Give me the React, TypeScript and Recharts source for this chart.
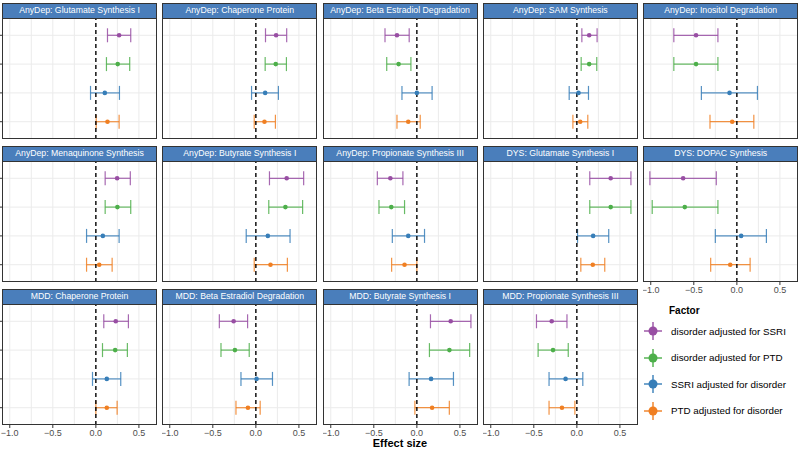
import React from 'react';
import { ScatterChart, Scatter, XAxis, YAxis, ErrorBar, ReferenceLine } from 'recharts';

const PANELS = [
  'AnyDep: Glutamate Synthesis I',
  'AnyDep: Chaperone Protein',
  'AnyDep: Beta Estradiol Degradation',
  'AnyDep: SAM Synthesis',
  'AnyDep: Inositol Degradation',
  'AnyDep: Menaquinone Synthesis',
  'AnyDep: Butyrate Synthesis I',
  'AnyDep: Propionate Synthesis III',
  'DYS: Glutamate Synthesis I',
  'DYS: DOPAC Synthesis',
  'MDD: Chaperone Protein',
  'MDD: Beta Estradiol Degradation',
  'MDD: Butyrate Synthesis I',
  'MDD: Propionate Synthesis III',
];

const FACTORS = [
  'disorder adjusted for SSRI',
  'disorder adjusted for PTD',
  'SSRI adjusted for disorder',
  'PTD adjusted for disorder',
];
const COLORS = ['#984ea3', '#4daf4a', '#377eb8', '#f07f22'];

// estimates and 95% intervals, one value per panel
const disSsriEst = [0.27, 0.235, -0.231, 0.143, -0.474, 0.247, 0.358, -0.308, 0.393, -0.624, 0.231, -0.258, 0.393, -0.292];
const disSsriLo = [0.135, 0.112, -0.37, 0.058, -0.732, 0.108, 0.158, -0.459, 0.15, -1.01, 0.092, -0.424, 0.158, -0.469];
const disSsriHi = [0.405, 0.358, -0.089, 0.235, -0.22, 0.4, 0.555, -0.162, 0.628, -0.239, 0.378, -0.096, 0.628, -0.115];

const disPtdEst = [0.254, 0.231, -0.212, 0.143, -0.474, 0.25, 0.343, -0.297, 0.393, -0.605, 0.224, -0.243, 0.378, -0.277];
const disPtdLo = [0.123, 0.108, -0.35, 0.05, -0.732, 0.108, 0.15, -0.44, 0.15, -0.983, 0.077, -0.405, 0.146, -0.45];
const disPtdHi = [0.393, 0.355, -0.069, 0.231, -0.22, 0.405, 0.543, -0.143, 0.628, -0.22, 0.366, -0.077, 0.613, -0.1];

const ssriEst = [0.104, 0.108, 0.0, 0.019, -0.085, 0.081, 0.139, -0.1, 0.189, 0.05, 0.127, 0.008, 0.165, -0.131];
const ssriLo = [-0.062, -0.05, -0.173, -0.089, -0.412, -0.108, -0.112, -0.285, 0.008, -0.25, -0.039, -0.173, -0.09, -0.323];
const ssriHi = [0.274, 0.262, 0.177, 0.135, 0.239, 0.27, 0.397, 0.089, 0.37, 0.343, 0.289, 0.193, 0.425, 0.069];

const ptdEst = [0.135, 0.1, -0.1, 0.039, -0.054, 0.039, 0.17, -0.143, 0.185, -0.077, 0.127, -0.092, 0.177, -0.173];
const ptdLo = [0.004, -0.019, -0.231, -0.046, -0.312, -0.108, -0.019, -0.293, 0.046, -0.304, 0.0, -0.231, -0.023, -0.323];
const ptdHi = [0.27, 0.227, 0.039, 0.127, 0.197, 0.189, 0.366, 0.0, 0.324, 0.154, 0.247, 0.05, 0.377, -0.023];

const SERIES = [
  { est: disSsriEst, lo: disSsriLo, hi: disSsriHi, level: 4 },
  { est: disPtdEst, lo: disPtdLo, hi: disPtdHi, level: 3 },
  { est: ssriEst, lo: ssriLo, hi: ssriHi, level: 2 },
  { est: ptdEst, lo: ptdLo, hi: ptdHi, level: 1 },
];

const X_TICKS = [-1, -0.5, 0, 0.5];
const X_GRID = [-1, -0.75, -0.5, -0.25, 0.25, 0.5];
const Y_LEVELS = [1, 2, 3, 4];

const FONT = '"Liberation Sans", Arial, sans-serif';
const PW = 155;
const HEADER_H = 15;
const BODY_H = 121;
const AXIS_H = 14;
const ROW_TOPS = [3, 146, 289];
const COL_STEP = 160.3;

const fmt = (v: number) => (v < 0 ? '\u2212' + Math.abs(v).toFixed(1) : v.toFixed(1));

const Panel = ({ idx }: { idx: number }) => {
  const row = Math.floor(idx / 5);
  const col = idx % 5;
  const left = 2 + col * COL_STEP;
  const top = ROW_TOPS[row];
  const bottom = idx >= 9;
  const firstCol = col === 0;
  const yW = firstCol ? 3 : 0;

  return (
    <>
      <div
        style={{
          position: 'absolute', left, top, width: PW, height: HEADER_H + 1, boxSizing: 'border-box',
          background: '#4a7ebb', border: '1px solid #333', color: '#fff', fontSize: 8.7,
          textAlign: 'center', lineHeight: '13px', whiteSpace: 'nowrap', overflow: 'hidden',
        }}
      >
        {PANELS[idx]}
      </div>
      <div style={{ position: 'absolute', left: left - yW, top: top + HEADER_H }}>
        <ScatterChart
          width={PW + yW}
          height={BODY_H + (bottom ? AXIS_H : 0)}
          margin={{ top: 0, right: 0, bottom: 0, left: 0 }}
        >
          <XAxis
            type="number"
            dataKey="x"
            domain={[-1.09, 0.71]}
            ticks={X_TICKS}
            allowDataOverflow
            hide={!bottom}
            height={bottom ? AXIS_H : 0}
            axisLine={false}
            tickSize={3}
            tickLine={{ stroke: '#333' }}
            tickFormatter={fmt}
            tick={{ fontSize: 9, fill: '#4d4d4d', fontFamily: FONT }}
            interval={0}
          />
          <YAxis
            type="number"
            dataKey="y"
            domain={[0.4, 4.6]}
            ticks={Y_LEVELS}
            hide={!firstCol}
            width={yW}
            axisLine={false}
            tickSize={2}
            tickLine={{ stroke: '#333' }}
            tickFormatter={() => ''}
          />
          {X_GRID.map((v) => (
            <ReferenceLine key={'gx' + v} x={v} stroke="#ebebeb" strokeWidth={1} />
          ))}
          {Y_LEVELS.map((v) => (
            <ReferenceLine key={'gy' + v} y={v} stroke="#ebebeb" strokeWidth={1} />
          ))}
          {SERIES.map((s, k) => (
            <Scatter
              key={k}
              isAnimationActive={false}
              data={[{ x: s.est[idx], y: s.level, err: [s.est[idx] - s.lo[idx], s.hi[idx] - s.est[idx]] }]}
              fill={COLORS[k]}
              shape={(p: any) => <circle cx={p.cx} cy={p.cy} r={2.3} fill={COLORS[k]} />}
            >
              <ErrorBar dataKey="err" direction="x" width={7} stroke={COLORS[k]} strokeWidth={1.2} strokeOpacity={0.85} />
            </Scatter>
          ))}
          <ReferenceLine x={0} stroke="#000" strokeWidth={1.4} strokeDasharray="4 3" />
        </ScatterChart>
      </div>
      <div
        style={{
          position: 'absolute', left, top: top + HEADER_H, width: PW, height: BODY_H,
          boxSizing: 'border-box', border: '1px solid #333', pointerEvents: 'none',
        }}
      />
    </>
  );
};

const LegendIcon = ({ color }: { color: string }) => (
  <svg width={20} height={20} style={{ display: 'block' }}>
    <line x1={1} y1={10} x2={19} y2={10} stroke={color} strokeWidth={1.4} />
    <line x1={10} y1={1} x2={10} y2={19} stroke={color} strokeWidth={1.4} />
    <circle cx={10} cy={10} r={4.5} fill={color} />
  </svg>
);

export default function App() {
  return (
    <div
      style={{
        position: 'absolute', left: 0, top: 0, width: 800, height: 450,
        background: '#fff', fontFamily: FONT, overflow: 'hidden',
      }}
    >
      {PANELS.map((_, i) => (
        <Panel key={i} idx={i} />
      ))}
      <div
        style={{
          position: 'absolute', left: 0, width: 800, top: 438, textAlign: 'center',
          fontSize: 11, lineHeight: '11px', fontWeight: 'bold', color: '#000',
        }}
      >
        Effect size
      </div>
      <div style={{ position: 'absolute', left: 669, top: 305, fontSize: 10, fontWeight: 'bold' }}>Factor</div>
      {FACTORS.map((f, k) => (
        <div
          key={f}
          style={{
            position: 'absolute', left: 643, top: 321 + k * 26.5, height: 20,
            display: 'flex', alignItems: 'center', fontSize: 9.8, color: '#000', whiteSpace: 'nowrap',
          }}
        >
          <LegendIcon color={COLORS[k]} />
          <span style={{ marginLeft: 8 }}>{f}</span>
        </div>
      ))}
    </div>
  );
}
